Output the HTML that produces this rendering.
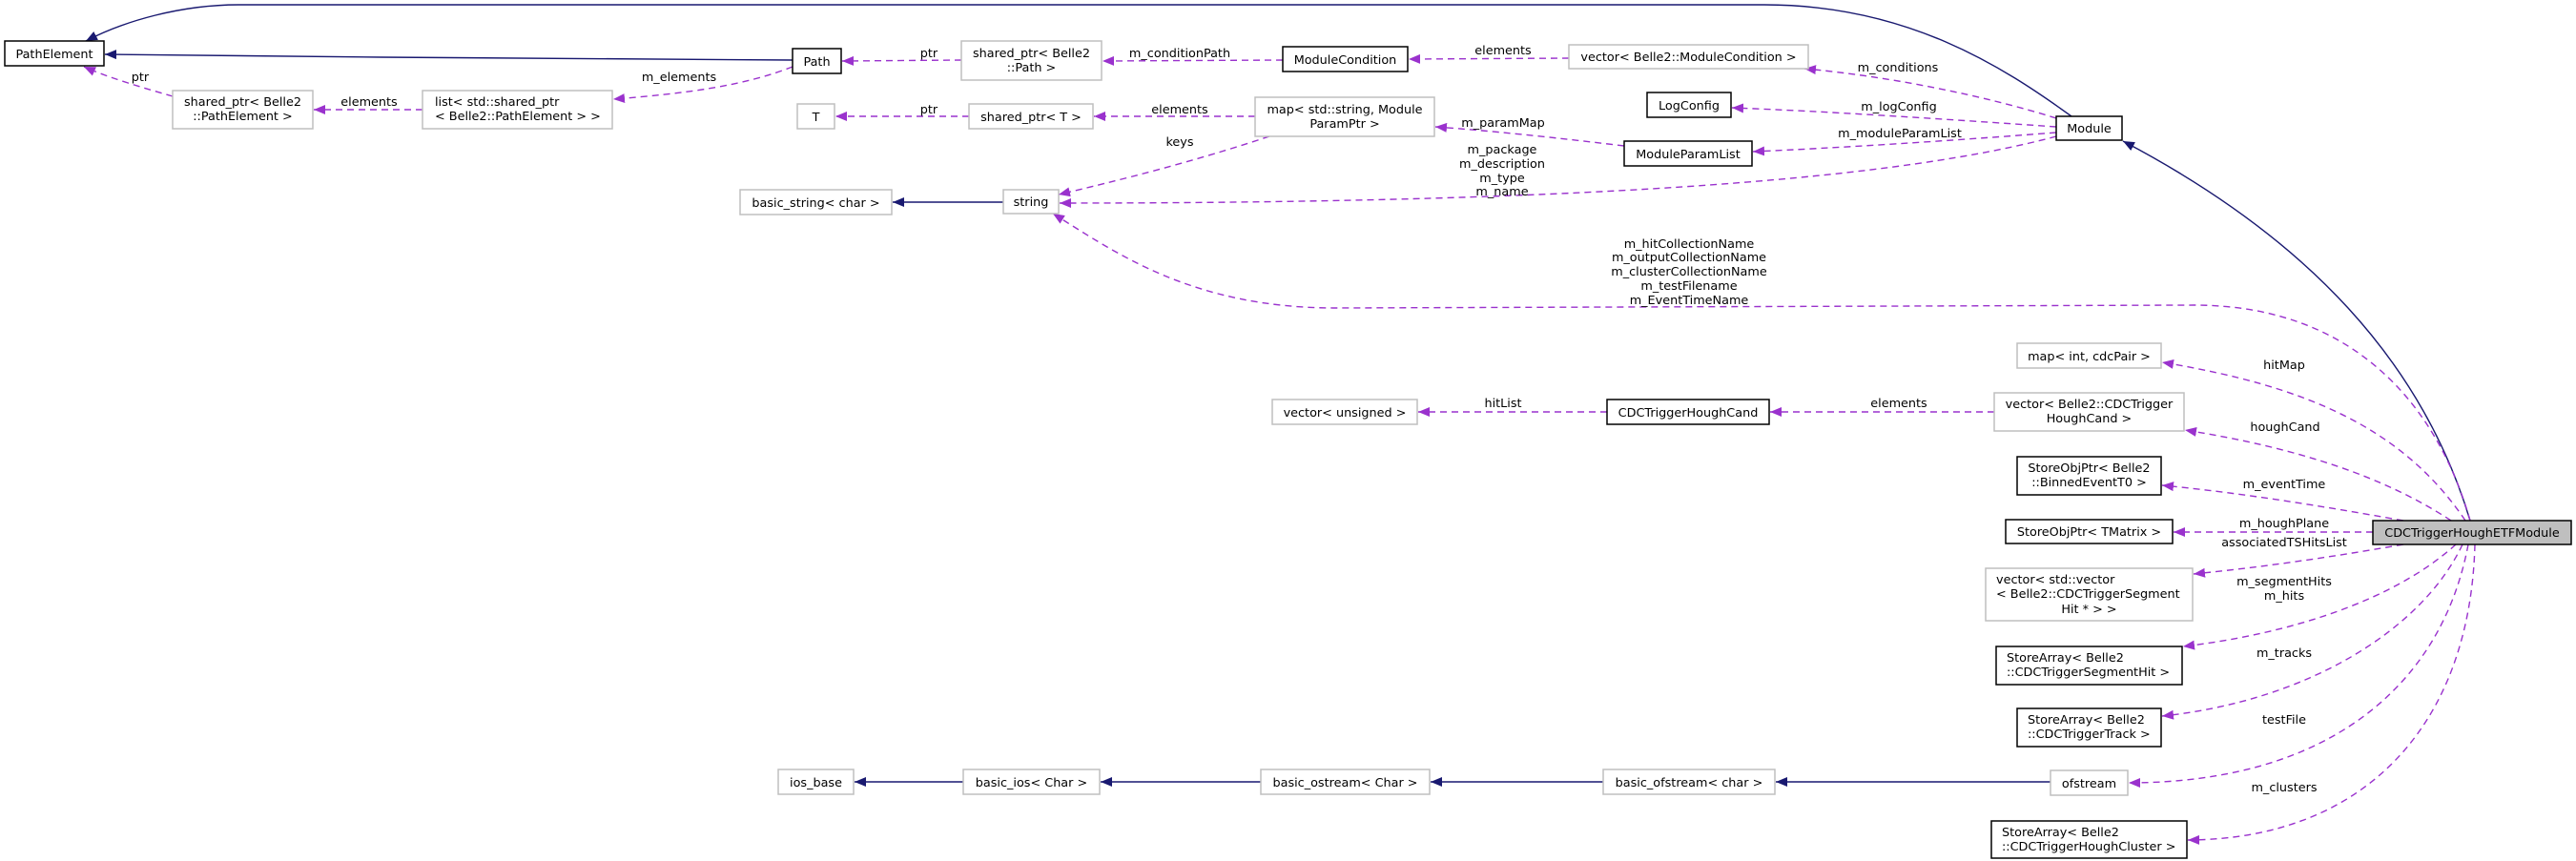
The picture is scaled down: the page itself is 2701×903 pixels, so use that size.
<!DOCTYPE html>
<html><head><meta charset="utf-8"><style>
html,body{margin:0;padding:0;background:#fff;}
svg{display:block;}
text{font-family:"DejaVu Sans","Liberation Sans",sans-serif;font-size:12.8px;fill:#000;}
.g{fill:#fff;stroke:#bfbfbf;stroke-width:1.5;}
.b{fill:#fff;stroke:#000;stroke-width:1.5;}
.d{fill:none;stroke:#9a32cd;stroke-width:1.4;stroke-dasharray:7,5;}
.s{fill:none;stroke:#191970;stroke-width:1.4;}
</style></head><body>
<svg width="2701" height="903" viewBox="0 0 2701 903" xmlns="http://www.w3.org/2000/svg">
<defs>
<marker id="ap" viewBox="0 0 12 10" refX="12" refY="5" markerWidth="12" markerHeight="10" markerUnits="userSpaceOnUse" orient="auto"><path d="M0,0 L12,5 L0,10 z" fill="#9a32cd"/></marker>
<marker id="an" viewBox="0 0 12 10" refX="12" refY="5" markerWidth="12" markerHeight="10" markerUnits="userSpaceOnUse" orient="auto"><path d="M0,0 L12,5 L0,10 z" fill="#191970"/></marker>
</defs>

<!-- solid inheritance edges -->
<path class="s" marker-end="url(#an)" d="M2172,122 C2100,70 2000,5 1850,5 L250,5 C190,5 130,22 90,43"/>
<path class="s" marker-end="url(#an)" d="M831,63 L400,60 L110,57"/>
<path class="s" marker-end="url(#an)" d="M2590,546 C2540,380 2420,250 2226,148"/>
<path class="s" marker-end="url(#an)" d="M1052,212 L936,212"/>
<path class="s" marker-end="url(#an)" d="M2150,820 L1862,820"/>
<path class="s" marker-end="url(#an)" d="M1681,820 L1500,820"/>
<path class="s" marker-end="url(#an)" d="M1322,820 L1154,820"/>
<path class="s" marker-end="url(#an)" d="M1010,820 L896,820"/>

<!-- dashed usage edges -->
<path class="d" marker-end="url(#ap)" d="M181,101 C150,92 115,82 88,70"/>
<path class="d" marker-end="url(#ap)" d="M443,115 L329,115"/>
<path class="d" marker-end="url(#ap)" d="M831,70 C780,90 720,98 643,104"/>
<path class="d" marker-end="url(#ap)" d="M1008,63 L883,64"/>
<path class="d" marker-end="url(#ap)" d="M1345,63 L1156,64"/>
<path class="d" marker-end="url(#ap)" d="M1645,61 L1477,62"/>
<path class="d" marker-end="url(#ap)" d="M1016,122 L876,122"/>
<path class="d" marker-end="url(#ap)" d="M1316,122 L1147,122"/>
<path class="d" marker-end="url(#ap)" d="M1703,153 C1620,143 1560,137 1505,133"/>
<path class="d" marker-end="url(#ap)" d="M1331,143 C1250,170 1170,190 1110,204"/>
<path class="d" marker-end="url(#ap)" d="M2156,124 C2080,100 1980,80 1892,72"/>
<path class="d" marker-end="url(#ap)" d="M2156,133 C2040,125 1920,117 1816,113"/>
<path class="d" marker-end="url(#ap)" d="M2156,139 C2040,148 1930,155 1838,159"/>
<path class="d" marker-end="url(#ap)" d="M2156,143 C2000,185 1700,213 1111,213"/>
<path class="d" marker-end="url(#ap)" d="M2590,546 C2560,440 2480,320 2300,320 L1400,323 C1250,323 1170,265 1104,224"/>
<path class="d" marker-end="url(#ap)" d="M1685,432 L1487,432"/>
<path class="d" marker-end="url(#ap)" d="M2091,432 L1856,432"/>

<path class="d" marker-end="url(#ap)" d="M2585,546 C2520,450 2420,405 2267,380"/>
<path class="d" marker-end="url(#ap)" d="M2570,546 C2500,500 2410,470 2291,451"/>
<path class="d" marker-end="url(#ap)" d="M2520,546 C2430,530 2350,517 2267,509"/>
<path class="d" marker-end="url(#ap)" d="M2488,558 L2279,558"/>
<path class="d" marker-end="url(#ap)" d="M2520,571 C2440,585 2370,595 2300,602"/>
<path class="d" marker-end="url(#ap)" d="M2575,571 C2510,630 2400,665 2289,678"/>
<path class="d" marker-end="url(#ap)" d="M2582,571 C2540,660 2420,735 2267,751"/>
<path class="d" marker-end="url(#ap)" d="M2588,571 C2560,720 2440,821 2232,821"/>
<path class="d" marker-end="url(#ap)" d="M2595,571 C2590,760 2480,880 2294,881"/>

<!-- nodes -->
<rect class="b" x="5" y="43" width="104" height="26"/><text x="57" y="61" text-anchor="middle">PathElement</text>
<rect class="b" x="831" y="51" width="51" height="26"/><text x="856.5" y="69" text-anchor="middle">Path</text>
<rect class="g" x="181" y="95" width="147" height="40"/><text x="254.5" y="111" text-anchor="middle">shared_ptr&lt; Belle2</text><text x="254.5" y="126" text-anchor="middle">::PathElement &gt;</text>
<rect class="g" x="443" y="95" width="199" height="40"/><text x="456" y="111">list&lt; std::shared_ptr</text><text x="456" y="126">&lt; Belle2::PathElement &gt; &gt;</text>
<rect class="g" x="836" y="109" width="39" height="26"/><text x="855.5" y="127" text-anchor="middle">T</text>
<rect class="g" x="1008" y="43" width="147" height="41"/><text x="1081.5" y="60" text-anchor="middle">shared_ptr&lt; Belle2</text><text x="1081.5" y="75" text-anchor="middle">::Path &gt;</text>
<rect class="g" x="1016" y="109" width="130" height="26"/><text x="1081" y="127" text-anchor="middle">shared_ptr&lt; T &gt;</text>
<rect class="b" x="1345" y="49" width="131" height="26"/><text x="1410.5" y="67" text-anchor="middle">ModuleCondition</text>
<rect class="g" x="1316" y="102" width="188" height="41"/><text x="1410" y="119" text-anchor="middle">map&lt; std::string, Module</text><text x="1410" y="134" text-anchor="middle">ParamPtr &gt;</text>
<rect class="g" x="1645" y="47" width="251" height="25"/><text x="1770.5" y="64" text-anchor="middle">vector&lt; Belle2::ModuleCondition &gt;</text>
<rect class="b" x="1727" y="97" width="88" height="26"/><text x="1771" y="115" text-anchor="middle">LogConfig</text>
<rect class="b" x="1703" y="148" width="134" height="26"/><text x="1770" y="166" text-anchor="middle">ModuleParamList</text>
<rect class="b" x="2156" y="122" width="69" height="25"/><text x="2190.5" y="139" text-anchor="middle">Module</text>
<rect class="g" x="776" y="199" width="159" height="26"/><text x="855.5" y="217" text-anchor="middle">basic_string&lt; char &gt;</text>
<rect class="g" x="1052" y="199" width="58" height="25"/><text x="1081" y="216" text-anchor="middle">string</text>
<rect class="g" x="2115" y="360" width="151" height="26"/><text x="2190.5" y="378" text-anchor="middle">map&lt; int, cdcPair &gt;</text>
<rect class="g" x="1334" y="419" width="152" height="26"/><text x="1410" y="437" text-anchor="middle">vector&lt; unsigned &gt;</text>
<rect class="b" x="1685" y="419" width="170" height="26"/><text x="1770" y="437" text-anchor="middle">CDCTriggerHoughCand</text>
<rect class="g" x="2091" y="412" width="199" height="40"/><text x="2190.5" y="428" text-anchor="middle">vector&lt; Belle2::CDCTrigger</text><text x="2190.5" y="443" text-anchor="middle">HoughCand &gt;</text>
<rect class="b" x="2115" y="479" width="151" height="40"/><text x="2190.5" y="495" text-anchor="middle">StoreObjPtr&lt; Belle2</text><text x="2190.5" y="510" text-anchor="middle">::BinnedEventT0 &gt;</text>
<rect class="b" x="2103" y="545" width="175" height="25"/><text x="2190.5" y="562" text-anchor="middle">StoreObjPtr&lt; TMatrix &gt;</text>
<rect class="g" x="2082" y="596" width="217" height="55"/><text x="2093" y="612">vector&lt; std::vector</text><text x="2093" y="627">&lt; Belle2::CDCTriggerSegment</text><text x="2190.5" y="643" text-anchor="middle">Hit * &gt; &gt;</text>
<rect class="b" x="2093" y="678" width="195" height="40"/><text x="2104" y="694">StoreArray&lt; Belle2</text><text x="2104" y="709">::CDCTriggerSegmentHit &gt;</text>
<rect class="b" x="2115" y="743" width="151" height="40"/><text x="2126" y="759">StoreArray&lt; Belle2</text><text x="2126" y="774">::CDCTriggerTrack &gt;</text>
<rect class="g" x="816" y="807" width="79" height="26"/><text x="855.5" y="825" text-anchor="middle">ios_base</text>
<rect class="g" x="1010" y="807" width="143" height="26"/><text x="1081.5" y="825" text-anchor="middle">basic_ios&lt; Char &gt;</text>
<rect class="g" x="1322" y="807" width="177" height="26"/><text x="1410.5" y="825" text-anchor="middle">basic_ostream&lt; Char &gt;</text>
<rect class="g" x="1681" y="807" width="180" height="26"/><text x="1771" y="825" text-anchor="middle">basic_ofstream&lt; char &gt;</text>
<rect class="g" x="2150" y="808" width="81" height="26"/><text x="2190.5" y="826" text-anchor="middle">ofstream</text>
<rect class="b" x="2088" y="861" width="205" height="39"/><text x="2099" y="877">StoreArray&lt; Belle2</text><text x="2099" y="892">::CDCTriggerHoughCluster &gt;</text>
<rect x="2488" y="546" width="208" height="25" fill="#bfbfbf" stroke="#000" stroke-width="1.5"/><text x="2592" y="563" text-anchor="middle">CDCTriggerHoughETFModule</text>

<!-- edge labels -->
<g text-anchor="middle">
<text x="147" y="85">ptr</text>
<text x="387" y="111">elements</text>
<text x="712" y="85">m_elements</text>
<text x="974" y="60">ptr</text>
<text x="1237" y="60">m_conditionPath</text>
<text x="1576" y="57">elements</text>
<text x="974" y="119">ptr</text>
<text x="1237" y="119">elements</text>
<text x="1990" y="75">m_conditions</text>
<text x="1991" y="116">m_logConfig</text>
<text x="1992" y="144">m_moduleParamList</text>
<text x="1576" y="133">m_paramMap</text>
<text x="1237" y="153">keys</text>
<text x="1575" y="161">m_package</text>
<text x="1575" y="176">m_description</text>
<text x="1575" y="191">m_type</text>
<text x="1575" y="205">m_name</text>
<text x="1771" y="260">m_hitCollectionName</text>
<text x="1771" y="274">m_outputCollectionName</text>
<text x="1771" y="289">m_clusterCollectionName</text>
<text x="1771" y="304">m_testFilename</text>
<text x="1771" y="319">m_EventTimeName</text>
<text x="1576" y="427">hitList</text>
<text x="1991" y="427">elements</text>
<text x="2395" y="387">hitMap</text>
<text x="2396" y="452">houghCand</text>
<text x="2395" y="512">m_eventTime</text>
<text x="2395" y="553">m_houghPlane</text>
<text x="2395" y="573">associatedTSHitsList</text>
<text x="2395" y="614">m_segmentHits</text>
<text x="2395" y="629">m_hits</text>
<text x="2395" y="689">m_tracks</text>
<text x="2395" y="759">testFile</text>
<text x="2395" y="830">m_clusters</text>
</g>
</svg>
</body></html>
